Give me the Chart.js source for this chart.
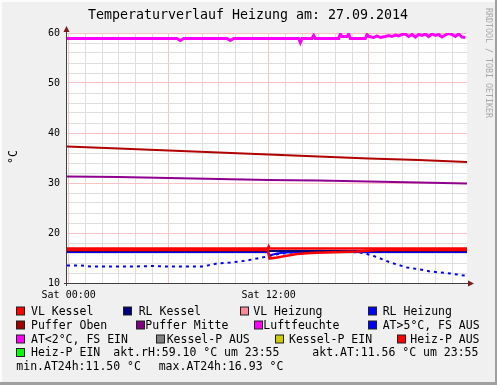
<!DOCTYPE html>
<html>
<head>
<meta charset="utf-8">
<script src="https://cdn.jsdelivr.net/npm/chart.js@4/dist/chart.umd.min.js"></script>
<style>
html,body{margin:0;padding:0;background:#F0F0F0;}
#wrap{position:relative;width:497px;height:385px;}
canvas{display:block;}
</style>
</head>
<body>
<div id="wrap"><canvas id="c" width="497" height="385"></canvas></div>
<script>
// ---------- DATA ----------
const titleText = 'Temperaturverlauf Heizung am: 27.09.2014';
const yAxisTitle = '°C';
const watermark = 'RRDTOOL / TOBI OETIKER';

const xGridHours = [0,1,2,3,4,5,6,7,8,9,10,11,12,13,14,15,16,17,18,19,20,21,22,23];
const xLabelHours = [0, 12];
const xLabelTexts = ['Sat 00:00', 'Sat 12:00'];
const yGridValues = [10,12,14,16,18,20,22,24,26,28,30,32,34,36,38,40,42,44,46,48,50,52,54,56,58,60];
const yLabelValues = [10,20,30,40,50,60];

// Luftfeuchte (magenta)
const rhHours = [-0.1,6.5,6.7,6.9,9.5,9.7,9.9,13.8,13.9,14.0,14.6,14.7,14.8,16.2,16.3,16.4,16.5,16.7,16.8,16.9,17.8,17.9,18.0,18.3,18.5,18.7,19.0,19.2,19.4,19.6,19.8,20.0,20.2,20.4,20.6,20.8,21.0,21.2,21.4,21.6,21.8,22.0,22.2,22.4,22.6,22.8,23.0,23.2,23.4,23.6,23.8];
const rhValues = [58.9,58.9,58.5,58.9,58.9,58.5,58.9,58.9,58.1,58.9,58.9,59.5,58.9,58.9,59.8,59.3,59.3,59.3,59.8,58.9,58.9,59.7,59.3,59.1,59.4,59.1,59.3,59.5,59.3,59.6,59.4,59.7,59.8,59.3,59.7,59.2,59.7,59.5,59.8,59.3,59.8,59.5,59.7,59.2,59.6,59.9,59.7,59.3,59.8,59.2,59.1];

// Puffer Oben / Puffer Mitte
const pufferHours = [-0.1,3,6,9,12,15,18,21,23.9];
const pufferObenValues = [37.3,36.9,36.5,36.1,35.7,35.3,34.9,34.6,34.2];
const pufferMitteValues = [31.3,31.2,31.0,30.8,30.6,30.5,30.3,30.1,29.9];

// Außentemperatur (blue dotted)
const atHours = [-0.1,0.7,1.3,2,3,4,5,6,7,8,8.5,8.9,9.7,10.3,10.7,11.3,11.9,12.3,12.8,13.5,14,15,16,17,17.5,17.9,18.3,18.7,19.3,19.9,20.3,20.7,21.1,21.7,22.3,22.9,23.5,23.7,23.8];
const atValues = [13.5,13.5,13.3,13.3,13.3,13.3,13.4,13.3,13.3,13.3,13.6,13.9,14.1,14.3,14.5,14.9,15.3,15.6,15.9,16.1,16.2,16.2,16.2,16.2,16.1,15.8,15.4,14.9,14.1,13.5,13.1,12.9,12.7,12.3,12.1,11.9,11.6,11.5,11.56];

// VL Kessel (red)
const vlKesselHours = [-0.1,11.95,12.0,12.05,23.9];
const vlKesselValues = [16.9,16.9,17.3,16.9,16.9];

// second red trace (drop at 12:00)
const heizRedHours = [-0.1,11.95,12.05,12.5,13.0,13.7,14.5,15.3,16.3,17.3,18.5,23.9];
const heizRedValues = [16.6,16.6,14.9,15.1,15.4,15.8,16.0,16.1,16.2,16.3,16.6,16.6];

// RL Kessel (navy)
const rlKesselHours = [-0.1,23.9];
const rlKesselValues = [16.4,16.4];

// RL Heizung (blue)
const rlHeizHours = [-0.1,11.95,12.05,12.5,13.0,13.5,23.9];
const rlHeizValues = [16.2,16.2,15.5,15.9,16.1,16.2,16.2];

// Legend
const legendLabels = ['VL Kessel','RL Kessel','VL Heizung','RL Heizung','Puffer Oben','Puffer Mitte','Luftfeuchte','AT>5°C, FS AUS','AT<2°C, FS EIN','Kessel-P AUS','Kessel-P EIN','Heiz-P AUS','Heiz-P EIN'];
const legendColors = ['#FF0000','#000080','#FF8899','#0000FF','#A00000','#800080','#FF00FF','#0000FF','#FF00FF','#808080','#CCCC00','#FF0000','#00FF00'];
const infoTexts = ['akt.rH:59.10 °C um 23:55','akt.AT:11.56 °C um 23:55','min.AT24h:11.50 °C','max.AT24h:16.93 °C'];

// ---------- helpers ----------
const pts = (hs, vs) => hs.map((h,i)=>({x:h, y:vs[i]}));
const FONT = "'DejaVu Sans Mono', 'Liberation Mono', monospace";

const decor = {
  id:'decor',
  beforeDraw(chart){
    const c = chart.ctx, a = chart.chartArea;
    c.save();
    c.fillStyle = '#F0F0F0';
    c.fillRect(0,0,chart.width,chart.height);
    c.fillStyle = '#FCFCFC';
    c.fillRect(0,0,chart.width,2);
    c.fillRect(0,0,2,chart.height);
    c.fillStyle = '#A0A0A0';
    c.fillRect(0,chart.height-3,chart.width,3);
    c.fillRect(chart.width-2,0,2,chart.height);
    c.fillStyle = '#FFFFFF';
    c.fillRect(a.left,a.top,a.right-a.left,a.bottom-a.top);
    c.restore();
  },
  afterDraw(chart){
    const c = chart.ctx, a = chart.chartArea;
    c.save();
    c.strokeStyle = '#404040';
    c.lineWidth = 1;
    c.beginPath();
    c.moveTo(a.left-0.5, a.bottom+3); c.lineTo(a.left-0.5, a.top-5);
    c.moveTo(a.left-3, a.bottom+0.5); c.lineTo(a.right+5, a.bottom+0.5);
    c.stroke();
    c.fillStyle = '#7A1A1A';
    c.beginPath();
    c.moveTo(a.left-0.5, a.top-7); c.lineTo(a.left-3.5, a.top-1); c.lineTo(a.left+2.5, a.top-1); c.closePath(); c.fill();
    c.beginPath();
    c.moveTo(a.right+7, a.bottom+0.5); c.lineTo(a.right+1, a.bottom-2.5); c.lineTo(a.right+1, a.bottom+3.5); c.closePath(); c.fill();

    c.fillStyle = '#000';
    c.font = '13.3px ' + FONT;
    c.textAlign = 'center'; c.textBaseline = 'middle';
    c.fillText(titleText, 248, 16);

    c.save();
    c.translate(14, 157);
    c.rotate(-Math.PI/2);
    c.font = '11.5px ' + FONT;
    c.fillText(yAxisTitle, 0, 0);
    c.restore();

    c.save();
    c.translate(488, 8);
    c.rotate(Math.PI/2);
    c.font = '8.3px ' + FONT;
    c.fillStyle = '#A8A8A8';
    c.textAlign = 'left'; c.textBaseline = 'middle';
    c.fillText(watermark, 0, 0);
    c.restore();

    const rows = [311.5, 325.5, 339.5, 353, 367];
    const pos = [
      [16,31,0],[123,138.7,0],[240,253.3,0],[368,382.7,0],
      [16,31,1],[136,145.3,1],[254,263.3,1],[368,382.7,1],
      [16,31,2],[156,166.7,2],[275,289,2],[397,410.3,2],
      [16,31,3]
    ];
    c.font = '11.5px ' + FONT;
    c.textAlign = 'left'; c.textBaseline = 'middle';
    legendLabels.forEach((lab,i)=>{
      const [bx,tx,r] = pos[i];
      const y = rows[r];
      c.fillStyle = legendColors[i];
      c.fillRect(bx+0.5, y-4.5, 8, 8);
      c.strokeStyle = '#202020';
      c.lineWidth = 1;
      c.strokeRect(bx+0.5, y-4.5, 8, 8);
      c.fillStyle = '#000';
      c.fillText(lab, tx, y+0.5);
    });
    c.fillText(infoTexts[0], 113.3, rows[3]+0.5);
    c.fillText(infoTexts[1], 312.3, rows[3]+0.5);
    c.fillText(infoTexts[2], 16.3, rows[4]+0.5);
    c.fillText(infoTexts[3], 158.7, rows[4]+0.5);
    c.restore();
  }
};

const line = (label, data, color, width, order, extra) => Object.assign({
  label, data, borderColor: color, backgroundColor: color, borderWidth: width,
  pointRadius: 0, tension: 0, fill: false, order
}, extra || {});

new Chart(document.getElementById('c'), {
  type: 'line',
  data: {
    datasets: [
      line('Luftfeuchte', pts(rhHours, rhValues), '#FF00FF', 3, 1),
      line('Puffer Oben', pts(pufferHours, pufferObenValues), '#B00000', 2, 2),
      line('Puffer Mitte', pts(pufferHours, pufferMitteValues), '#900090', 2, 3),
      line('VL Kessel', pts(vlKesselHours, vlKesselValues), '#FF0000', 2.5, 4),
      line('Heiz-P AUS', pts(heizRedHours, heizRedValues), '#FF0000', 2.5, 5),
      line('RL Kessel', pts(rlKesselHours, rlKesselValues), '#000080', 2, 6),
      line('RL Heizung', pts(rlHeizHours, rlHeizValues), '#0000FF', 2, 7),
      line('AT>5°C, FS AUS', pts(atHours, atValues), '#0000FF', 2, 8, {borderDash:[3,4]})
    ]
  },
  options: {
    responsive: false,
    devicePixelRatio: 1,
    animation: false,
    layout: { padding: { left: 0, top: 33, right: 30, bottom: 82 } },
    plugins: { legend: { display: false }, tooltip: { enabled: false }, title: { display: false } },
    scales: {
      x: {
        type: 'linear', min: -0.1, max: 23.9,
        afterBuildTicks: s => { s.ticks = xGridHours.map(v => ({ value: v })); },
        afterFit: s => { s.height = 20; },
        ticks: {
          autoSkip: false, maxRotation: 0, minRotation: 0, padding: 6,
          color: '#000', font: { family: FONT, size: 10 },
          callback: v => { const i = xLabelHours.indexOf(v); return i >= 0 ? xLabelTexts[i] : ''; }
        },
        grid: {
          drawTicks: false, lineWidth: 1,
          color: ctx => (ctx.tick && ctx.tick.value % 6 === 0) ? '#F6C4C4' : '#DEDEDE'
        },
        border: { display: false }
      },
      y: {
        type: 'linear', min: 10, max: 60,
        afterBuildTicks: s => { s.ticks = yGridValues.map(v => ({ value: v })); },
        afterFit: s => { s.width = 67; },
        ticks: {
          autoSkip: false, padding: 7,
          color: '#000', font: { family: FONT, size: 10 },
          callback: v => yLabelValues.includes(v) ? String(v) : ''
        },
        grid: {
          drawTicks: false, lineWidth: 1,
          color: ctx => (ctx.tick && ctx.tick.value % 10 === 0) ? '#F6C4C4' : '#DEDEDE'
        },
        border: { display: false }
      }
    }
  },
  plugins: [decor]
});
</script>
</body>
</html>
